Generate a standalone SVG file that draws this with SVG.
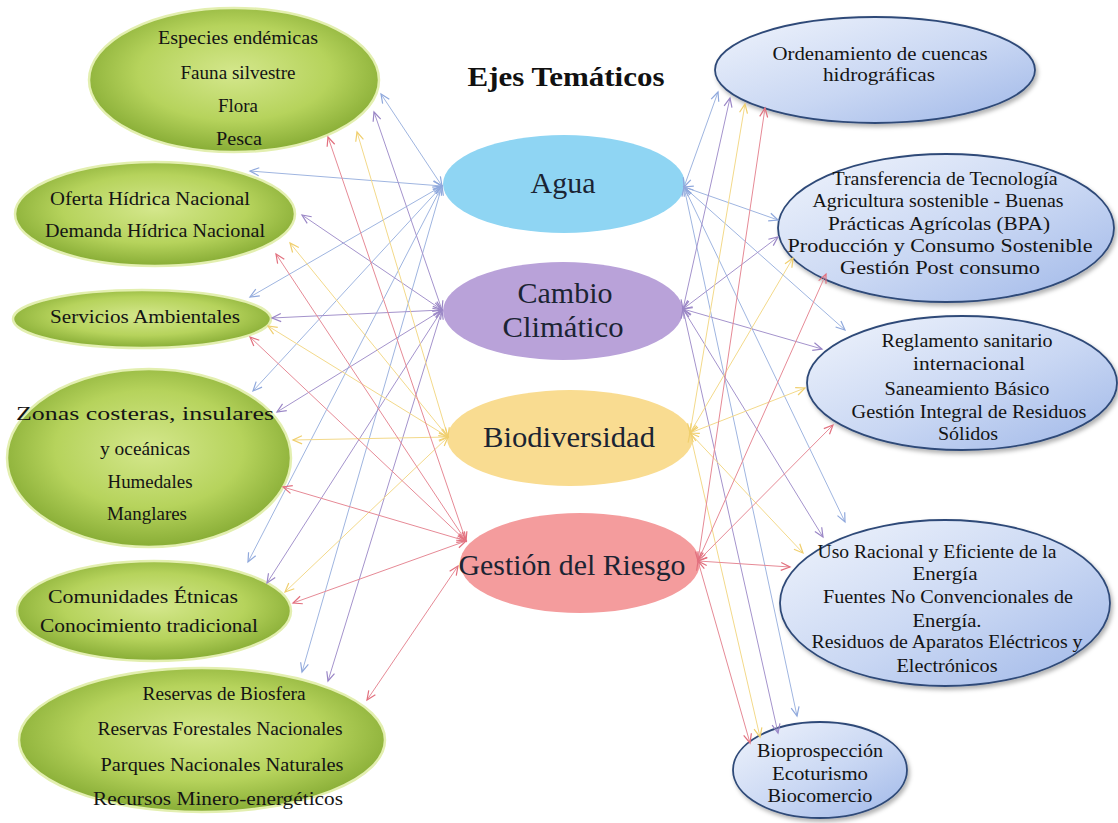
<svg xmlns="http://www.w3.org/2000/svg" width="1118" height="823" viewBox="0 0 1118 823">
<defs>
<radialGradient id="gGreen" cx="50%" cy="45%" r="55%">
<stop offset="0" stop-color="#d4e78c"/>
<stop offset="0.6" stop-color="#b6d35c"/>
<stop offset="1" stop-color="#88ad36"/>
</radialGradient>
<linearGradient id="gBlue" x1="0" y1="0" x2="1" y2="1">
<stop offset="0" stop-color="#f0f4fc"/>
<stop offset="0.55" stop-color="#c9d7f3"/>
<stop offset="1" stop-color="#9fb7e8"/>
</linearGradient>
<filter id="shadow" x="-10%" y="-10%" width="125%" height="130%">
<feDropShadow dx="2" dy="3" stdDeviation="2" flood-color="#000" flood-opacity="0.3"/>
</filter>
<marker id="mb" markerUnits="userSpaceOnUse" markerWidth="10" markerHeight="8" refX="9" refY="4" orient="auto-start-reverse" overflow="visible"><path d="M0,0 L9,4 L0,8" fill="none" stroke="#8fa8dc" stroke-width="1.2"/></marker>
<marker id="mp" markerUnits="userSpaceOnUse" markerWidth="10" markerHeight="8" refX="9" refY="4" orient="auto-start-reverse" overflow="visible"><path d="M0,0 L9,4 L0,8" fill="none" stroke="#9a86c6" stroke-width="1.2"/></marker>
<marker id="my" markerUnits="userSpaceOnUse" markerWidth="10" markerHeight="8" refX="9" refY="4" orient="auto-start-reverse" overflow="visible"><path d="M0,0 L9,4 L0,8" fill="none" stroke="#f0cf6e" stroke-width="1.2"/></marker>
<marker id="mr" markerUnits="userSpaceOnUse" markerWidth="10" markerHeight="8" refX="9" refY="4" orient="auto-start-reverse" overflow="visible"><path d="M0,0 L9,4 L0,8" fill="none" stroke="#e2707e" stroke-width="1.2"/></marker>
</defs>
<style>
.green{fill:url(#gGreen);stroke:#e3efb0;stroke-width:2.5}
.blue{fill:url(#gBlue);stroke:#2f4a78;stroke-width:1.8;filter:url(#shadow)}
.t{font-family:"Liberation Serif","Times New Roman",serif;fill:#141414;text-anchor:middle}
.s{font-size:18px}
.c{font-size:29px;fill:#1b2433}
.title{font-size:27px;font-weight:bold;fill:#111}
.ln{fill:none;stroke-width:1}
.cb{stroke:#9fb5e0;marker-start:url(#mb);marker-end:url(#mb)}
.cp{stroke:#a493cc;marker-start:url(#mp);marker-end:url(#mp)}
.cy{stroke:#f3d98a;marker-start:url(#my);marker-end:url(#my)}
.cr{stroke:#e68a96;marker-start:url(#mr);marker-end:url(#mr)}
</style>
<rect width="1118" height="823" fill="#ffffff"/>

<text class="t title" x="566" y="86" textLength="197" lengthAdjust="spacingAndGlyphs">Ejes Temáticos</text>

<!-- central nodes -->
<g id="agua">
<ellipse cx="564" cy="184" rx="121" ry="49" fill="#8fd5f3"/>
<text class="t c" x="563" y="193" textLength="65" lengthAdjust="spacingAndGlyphs">Agua</text>
</g>
<g id="cambio">
<ellipse cx="563" cy="311" rx="120" ry="49" fill="#b9a2d9"/>
<text class="t c" x="565" y="303" textLength="95" lengthAdjust="spacingAndGlyphs">Cambio</text>
<text class="t c" x="563" y="337" textLength="121" lengthAdjust="spacingAndGlyphs">Climático</text>
</g>
<g id="biodiversidad">
<ellipse cx="570" cy="438" rx="123" ry="48" fill="#f9dc91"/>
<text class="t c" x="569" y="447" textLength="172" lengthAdjust="spacingAndGlyphs">Biodiversidad</text>
</g>
<g id="gestion">
<ellipse cx="580" cy="563" rx="120" ry="50" fill="#f49c9d"/>
<text class="t c" x="572" y="575" textLength="227" lengthAdjust="spacingAndGlyphs">Gestión del Riesgo</text>
</g>

<!-- left nodes -->
<g id="especies">
<ellipse class="green" cx="234" cy="80" rx="145" ry="72"/>
<text class="t s" x="238" y="44" textLength="160" lengthAdjust="spacingAndGlyphs">Especies endémicas</text>
<text class="t s" x="238" y="79" textLength="115" lengthAdjust="spacingAndGlyphs">Fauna silvestre</text>
<text class="t s" x="238" y="112" textLength="40" lengthAdjust="spacingAndGlyphs">Flora</text>
<text class="t s" x="239" y="145" textLength="46" lengthAdjust="spacingAndGlyphs">Pesca</text>
</g>
<g id="oferta">
<ellipse class="green" cx="155" cy="214" rx="140" ry="52"/>
<text class="t s" x="150" y="205" textLength="200" lengthAdjust="spacingAndGlyphs">Oferta Hídrica Nacional</text>
<text class="t s" x="155" y="237" textLength="220" lengthAdjust="spacingAndGlyphs">Demanda Hídrica Nacional</text>
</g>
<g id="servicios">
<ellipse class="green" cx="142" cy="319" rx="129" ry="29"/>
<text class="t s" x="145" y="323" textLength="190" lengthAdjust="spacingAndGlyphs">Servicios Ambientales</text>
</g>
<g id="zonas">
<ellipse class="green" cx="149" cy="458" rx="142" ry="89"/>
<text class="t s" x="145" y="420" textLength="258" lengthAdjust="spacingAndGlyphs">Zonas costeras, insulares</text>
<text class="t s" x="145" y="455" textLength="90" lengthAdjust="spacingAndGlyphs">y oceánicas</text>
<text class="t s" x="150" y="488" textLength="85" lengthAdjust="spacingAndGlyphs">Humedales</text>
<text class="t s" x="147" y="520" textLength="80" lengthAdjust="spacingAndGlyphs">Manglares</text>
</g>
<g id="comunidades">
<ellipse class="green" cx="154" cy="611" rx="137" ry="50"/>
<text class="t s" x="143" y="603" textLength="190" lengthAdjust="spacingAndGlyphs">Comunidades Étnicas</text>
<text class="t s" x="149" y="632" textLength="218" lengthAdjust="spacingAndGlyphs">Conocimiento tradicional</text>
</g>
<g id="reservas">
<ellipse class="green" cx="202" cy="740" rx="183" ry="72"/>
<text class="t s" x="224" y="700" textLength="163" lengthAdjust="spacingAndGlyphs">Reservas de Biosfera</text>
<text class="t s" x="220" y="735" textLength="245" lengthAdjust="spacingAndGlyphs">Reservas Forestales Nacionales</text>
<text class="t s" x="222" y="771" textLength="243" lengthAdjust="spacingAndGlyphs">Parques Nacionales Naturales</text>
<text class="t s" x="218" y="805" textLength="250" lengthAdjust="spacingAndGlyphs">Recursos Minero-energéticos</text>
</g>

<!-- right nodes -->
<g id="ordenamiento">
<ellipse class="blue" cx="875" cy="70" rx="160" ry="53"/>
<text class="t s" x="880" y="60" textLength="215" lengthAdjust="spacingAndGlyphs">Ordenamiento de cuencas</text>
<text class="t s" x="879" y="81" textLength="112" lengthAdjust="spacingAndGlyphs">hidrográficas</text>
</g>
<g id="transferencia">
<ellipse class="blue" cx="946" cy="228" rx="168" ry="74"/>
<text class="t s" x="945" y="185" textLength="225" lengthAdjust="spacingAndGlyphs">Transferencia de Tecnología</text>
<text class="t s" x="938" y="207" textLength="251" lengthAdjust="spacingAndGlyphs">Agricultura sostenible - Buenas</text>
<text class="t s" x="939" y="230" textLength="222" lengthAdjust="spacingAndGlyphs">Prácticas Agrícolas (BPA)</text>
<text class="t s" x="940" y="252" textLength="305" lengthAdjust="spacingAndGlyphs">Producción y Consumo Sostenible</text>
<text class="t s" x="940" y="274" textLength="200" lengthAdjust="spacingAndGlyphs">Gestión Post consumo</text>
</g>
<g id="reglamento">
<ellipse class="blue" cx="962" cy="383" rx="155" ry="67"/>
<text class="t s" x="967" y="347" textLength="171" lengthAdjust="spacingAndGlyphs">Reglamento sanitario</text>
<text class="t s" x="969" y="370" textLength="112" lengthAdjust="spacingAndGlyphs">internacional</text>
<text class="t s" x="967" y="395" textLength="165" lengthAdjust="spacingAndGlyphs">Saneamiento Básico</text>
<text class="t s" x="969" y="418" textLength="235" lengthAdjust="spacingAndGlyphs">Gestión Integral de Residuos</text>
<text class="t s" x="968" y="440" textLength="60" lengthAdjust="spacingAndGlyphs">Sólidos</text>
</g>
<g id="uso">
<ellipse class="blue" cx="945" cy="603" rx="165" ry="83"/>
<text class="t s" x="937" y="558" textLength="239" lengthAdjust="spacingAndGlyphs">Uso Racional y Eficiente de la</text>
<text class="t s" x="945" y="580" textLength="65" lengthAdjust="spacingAndGlyphs">Energía</text>
<text class="t s" x="948" y="603" textLength="250" lengthAdjust="spacingAndGlyphs">Fuentes No Convencionales de</text>
<text class="t s" x="947" y="627" textLength="69" lengthAdjust="spacingAndGlyphs">Energía.</text>
<text class="t s" x="947" y="648" textLength="271" lengthAdjust="spacingAndGlyphs">Residuos de Aparatos Eléctricos y</text>
<text class="t s" x="947" y="672" textLength="101" lengthAdjust="spacingAndGlyphs">Electrónicos</text>
</g>
<g id="bioprospeccion">
<ellipse class="blue" cx="820" cy="770" rx="87" ry="48"/>
<text class="t s" x="820" y="757" textLength="126" lengthAdjust="spacingAndGlyphs">Bioprospección</text>
<text class="t s" x="820" y="780" textLength="96" lengthAdjust="spacingAndGlyphs">Ecoturismo</text>
<text class="t s" x="820" y="802" textLength="105" lengthAdjust="spacingAndGlyphs">Biocomercio</text>
</g>

<!-- connectors -->
<g id="connectors" class="ln">
<!-- Agua -->
<path class="cb" d="M442,186 L381,94"/>
<path class="cb" d="M442,186 L250,171"/>
<path class="cb" d="M442,186 L250,297"/>
<path class="cb" d="M442,186 L253,391"/>
<path class="cb" d="M442,186 L248,562"/>
<path class="cb" d="M442,186 L302,672"/>
<path class="cb" d="M684,187 L718,92"/>
<path class="cb" d="M684,187 L778,220"/>
<path class="cb" d="M684,187 L845,330"/>
<path class="cb" d="M684,187 L845,522"/>
<path class="cb" d="M684,187 L797,716"/>
<!-- Cambio -->
<path class="cp" d="M442,310 L374,112"/>
<path class="cp" d="M442,310 L302,215"/>
<path class="cp" d="M442,310 L272,318"/>
<path class="cp" d="M442,310 L277,412"/>
<path class="cp" d="M442,310 L267,583"/>
<path class="cp" d="M442,310 L328,681"/>
<path class="cp" d="M683,309 L730,98"/>
<path class="cp" d="M683,309 L778,237"/>
<path class="cp" d="M683,309 L822,349"/>
<path class="cp" d="M683,309 L823,537"/>
<path class="cp" d="M683,309 L778,733"/>
<!-- Biodiversidad -->
<path class="cy" d="M448,437 L357,132"/>
<path class="cy" d="M448,437 L290,243"/>
<path class="cy" d="M448,437 L268,326"/>
<path class="cy" d="M448,437 L293,440"/>
<path class="cy" d="M448,437 L285,592"/>
<path class="cy" d="M690,433 L745,104"/>
<path class="cy" d="M690,433 L793,258"/>
<path class="cy" d="M690,433 L805,388"/>
<path class="cy" d="M690,433 L803,553"/>
<path class="cy" d="M690,433 L760,737"/>
<!-- Gestion -->
<path class="cr" d="M466,541 L328,137"/>
<path class="cr" d="M466,541 L276,254"/>
<path class="cr" d="M466,541 L250,337"/>
<path class="cr" d="M466,541 L283,487"/>
<path class="cr" d="M466,541 L293,603"/>
<path class="cr" d="M458,566 L367,700"/>
<path class="cr" d="M698,561 L765,108"/>
<path class="cr" d="M698,561 L826,274"/>
<path class="cr" d="M698,561 L833,425"/>
<path class="cr" d="M698,561 L790,567"/>
<path class="cr" d="M698,561 L750,743"/>
</g>
</svg>
